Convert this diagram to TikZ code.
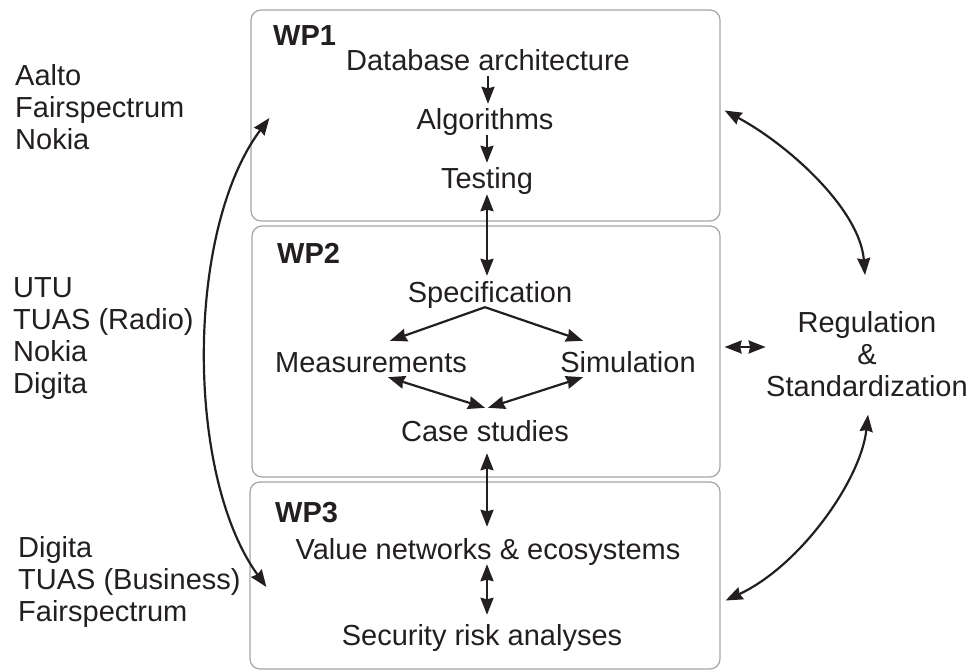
\documentclass[tikz,border=0pt]{standalone}
\usepackage{fontspec}
\setmainfont{Liberation Sans}
\usetikzlibrary{arrows.meta}

\definecolor{inkblack}{RGB}{35,31,32}
\definecolor{framegray}{RGB}{165,165,165}

\begin{document}
\begin{tikzpicture}[
		x=1pt, y=-1pt,
		>={Stealth[length=17pt, width=13pt, inset=1.5pt]},
		every node/.style={text=inkblack, font=\fontsize{29}{32}\selectfont},
		wpbox/.style={rectangle, draw=framegray, line width=1.2pt, rounded corners=10pt},
		task/.style={inner sep=2pt, text height=24pt, text depth=3pt},
		wptitle/.style={anchor=base west, inner sep=0pt, font=\fontsize{29}{32}\selectfont\bfseries},
		partners/.style={anchor=north west, align=left, inner sep=0pt},
		flow/.style={->, line width=2.2pt, draw=inkblack},
		twoway/.style={<->, line width=2.2pt, draw=inkblack}
	]
  \useasboundingbox (0,0) rectangle (969,671);
  \node (wp1) [wpbox, minimum width=469pt, minimum height=211pt] at (485.5,115.5) {};
  \node (wp2) [wpbox, minimum width=468pt, minimum height=251pt] at (486,351.5) {};
  \node (wp3) [wpbox, minimum width=470pt, minimum height=187pt] at (485,575.5) {};
  \node (wp1_label) [wptitle] at (273,46) {WP1};
  \node (wp2_label) [wptitle] at (277,263) {WP2};
  \node (wp3_label) [wptitle] at (275,522) {WP3};
  \node (db) [task] at (488,60) {Database architecture};
  \node (alg) [task] at (485,119.5) {Algorithms};
  \node (test) [task] at (487,178.5) {Testing};
  \node (spec) [task] at (490,291.5) {Specification};
  \node (meas) [task] at (371,361.5) {Measurements};
  \node (sim) [task] at (628,361.5) {Simulation};
  \node (case) [task] at (485,430.5) {Case studies};
  \node (val) [task] at (488,548.5) {Value networks \& ecosystems};
  \node (sec) [task] at (482,634.5) {Security risk analyses};
  \node (reg) [align=center, anchor=north, inner sep=0pt] at (867,311) {Regulation\\\&\\Standardization};
  \node (p1) [partners] at (15,64) {Aalto\\Fairspectrum\\Nokia};
  \node (p2) [partners] at (13,277) {UTU\\TUAS (Radio)\\Nokia\\Digita};
  \node (p3) [partners] at (18,536) {Digita\\TUAS (Business)\\Fairspectrum};
  \draw [flow] (db.south) -- (db.south |- alg.north);
  \draw [flow] (test.north |- alg.south) -- (test.north);
  \draw [twoway] (test.south) -- (test.south |- spec.north);
  \draw [flow] ([xshift=-5pt]spec.south) -- ([xshift=19pt,yshift=5pt]meas.north);
  \draw [flow] ([xshift=-5pt]spec.south) -- ([xshift=-45pt,yshift=5pt]sim.north);
  \draw [twoway] ([xshift=17pt]meas.south) -- ([yshift=7pt]case.north);
  \draw [twoway] ([xshift=-45pt]sim.south) -- ([xshift=3pt,yshift=7pt]case.north);
  \draw [twoway] ([xshift=2pt,yshift=-7pt]case.south) -- ([xshift=-1pt,yshift=6pt]val.north);
  \draw [twoway] ([xshift=-1pt]val.south) -- ([xshift=5pt,yshift=4pt]sec.north);
  \draw [twoway] ([xshift=19pt,yshift=-2.5pt]wp1.west) .. controls +(-84,112) and +(-81,-112) .. ([xshift=17pt,yshift=-11.5pt]wp3.west);
  \draw [twoway] ([xshift=4pt,yshift=5pt]wp1.east) .. controls +(65,35) and +(-5,-65) .. ([xshift=-2pt,yshift=36pt]reg.north);
  \draw [twoway] ([xshift=4pt,yshift=4.5pt]wp2.east) -- +(41,0);
  \draw [twoway] ([xshift=1pt,yshift=-18pt]reg.south) .. controls +(-7,65) and +(75,-35) .. ([xshift=5pt,yshift=-25pt]wp3.east);
\end{tikzpicture}
\end{document}
